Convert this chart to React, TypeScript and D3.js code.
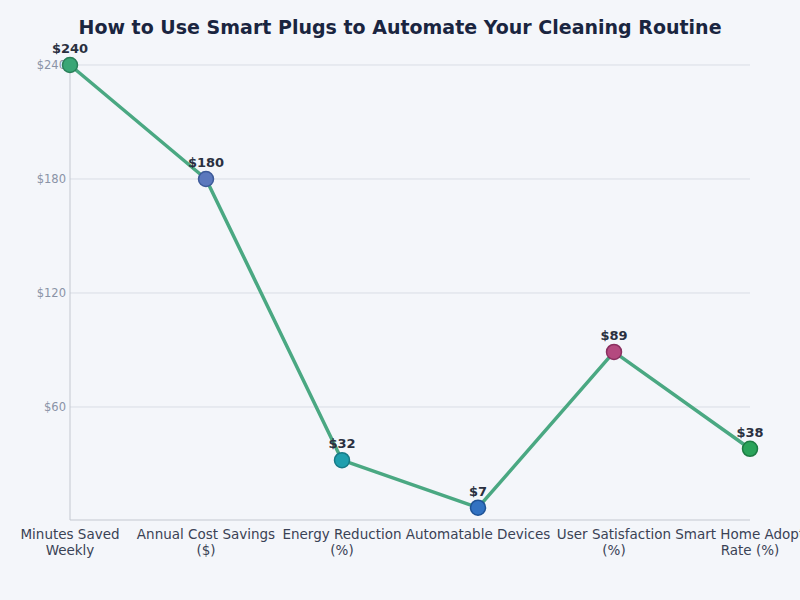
import { scaleLinear, scalePoint, line } from "d3";

const categories = [
  "Minutes Saved\nWeekly",
  "Annual Cost Savings\n($)",
  "Energy Reduction\n(%)",
  "Automatable Devices",
  "User Satisfaction\n(%)",
  "Smart Home Adoption\nRate (%)",
];
const values = [240, 180, 32, 7, 89, 38];
const pointColors = ["#3aa676", "#5b78bd", "#1f9fae", "#3272c2", "#b4497f", "#2aa35a"];
const pointStrokes = ["#2a7f59", "#3d5a99", "#167a87", "#1f5396", "#8a3060", "#1d7c43"];
const yTicks = [60, 120, 180, 240];

export default function App() {
  const width = 800;
  const height = 600;
  const margin = { top: 65, right: 50, bottom: 79, left: 70 };

  const x = scalePoint<string>()
    .domain(categories)
    .range([margin.left, width - margin.right])
    .padding(0);
  const y = scaleLinear().domain([0, 240]).range([height - margin.bottom, margin.top]);

  const path = line<number>()
    .x((_, i) => x(categories[i]) ?? 0)
    .y((d) => y(d))(values);

  const font = "DejaVu Sans, sans-serif";

  return (
    <div style={{ position: "fixed", inset: 0, background: "#f4f6fa" }}>
      <svg width={width} height={height} style={{ display: "block" }}>
        <rect width={width} height={height} fill="#f4f6fa" />
        <text
          x={width / 2}
          y={34}
          textAnchor="middle"
          fontFamily={font}
          fontWeight="bold"
          fontSize={19}
          fill="#1a2540"
        >
          How to Use Smart Plugs to Automate Your Cleaning Routine
        </text>

        {/* grid + y ticks */}
        {yTicks.map((t) => (
          <g key={t}>
            <line
              x1={margin.left}
              x2={width - margin.right}
              y1={y(t)}
              y2={y(t)}
              stroke="#d9dde5"
              strokeWidth={1}
            />
            <text
              x={margin.left - 4}
              y={y(t)}
              dy="0.35em"
              textAnchor="end"
              fontFamily={font}
              fontSize={11.5}
              fill="#8a93a6"
            >
              ${t}
            </text>
          </g>
        ))}

        {/* axes */}
        <line
          x1={margin.left}
          x2={margin.left}
          y1={y(240)}
          y2={y(0) - 1}
          stroke="#c4c8d0"
          strokeWidth={1}
        />
        <line
          x1={margin.left}
          x2={width - margin.right}
          y1={y(0) - 1}
          y2={y(0) - 1}
          stroke="#c4c8d0"
          strokeWidth={1}
        />

        {categories.map((c) => (
          <text
            key={c}
            x={x(c)}
            y={y(0) + 18}
            textAnchor="middle"
            fontFamily={font}
            fontSize={13.5}
            fill="#3a4255"
          >
            {c.split("\n").map((ln, i) => (
              <tspan key={i} x={x(c)} dy={i === 0 ? 0 : 15.5}>
                {ln}
              </tspan>
            ))}
          </text>
        ))}

        <path d={path ?? ""} fill="none" stroke="#4aa882" strokeWidth={3.5} strokeLinejoin="round" />

        {values.map((v, i) => {
          const cx = x(categories[i]) ?? 0;
          const cy = y(v);
          return (
            <g key={i}>
              <circle cx={cx} cy={cy} r={7.5} fill={pointColors[i]} stroke={pointStrokes[i]} strokeWidth={1.5} />
              <text
                x={cx}
                y={cy - 12}
                textAnchor="middle"
                fontFamily={font}
                fontWeight="bold"
                fontSize={13}
                fill="#2a3040"
              >
                ${v}
              </text>
            </g>
          );
        })}
      </svg>
    </div>
  );
}
